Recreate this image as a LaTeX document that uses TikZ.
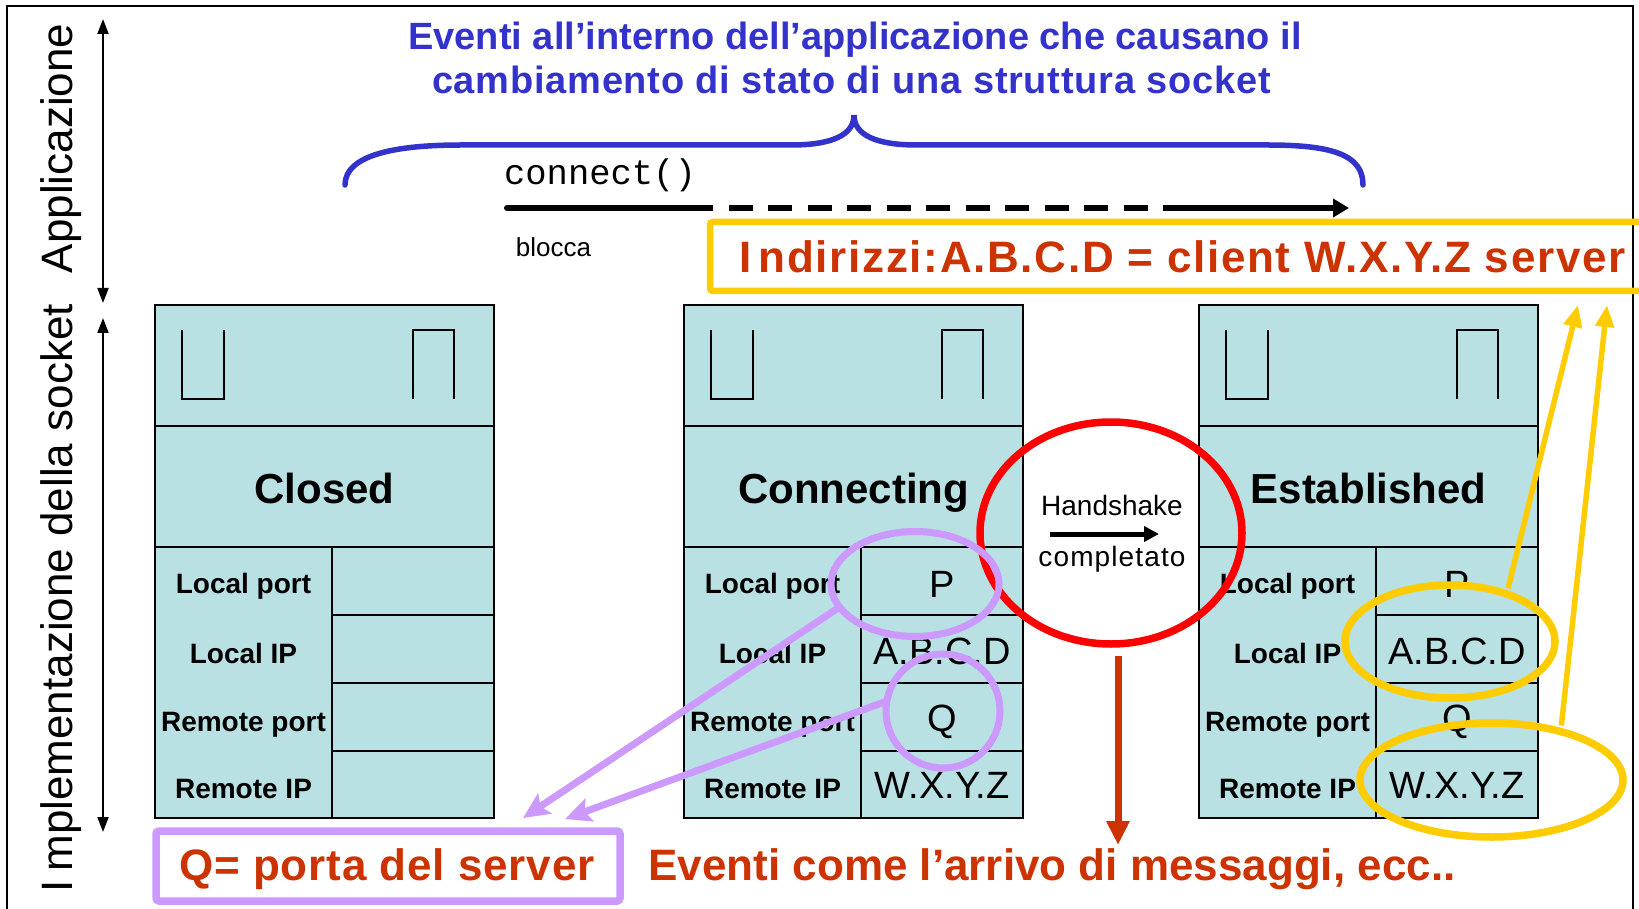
\documentclass[tikz,border=0pt]{standalone}
\usepackage{fontspec}
\setmainfont{Liberation Sans}
\setmonofont{Liberation Mono}
\usetikzlibrary{arrows.meta,shapes.geometric}

\definecolor{boxfill}{RGB}{185,224,227}
\definecolor{titleblue}{RGB}{51,51,204}
\definecolor{notered}{RGB}{204,51,0}
\definecolor{gold}{RGB}{255,204,0}
\definecolor{lavender}{RGB}{204,153,255}
\definecolor{ringred}{RGB}{255,0,0}

\newcommand{\setfs}[1]{\fontsize{#1}{#1}\selectfont}

\tikzset{
  every node/.style={inner sep=0pt, outer sep=0pt},
  boxline/.style={draw=black, line width=2pt},
  slotline/.style={draw=black, line width=1.8pt},
  sttitle/.style={font=\bfseries\setfs{42}, anchor=base},
  fieldlbl/.style={font=\bfseries\setfs{28}, anchor=base},
  fieldval/.style={font=\setfs{38}, anchor=base},
  sidetxt/.style={font=\setfs{44}, rotate=90, anchor=base},
  bluetitle/.style={font=\bfseries\setfs{38}, text=titleblue, anchor=base},
  rednote/.style={font=\bfseries\setfs{44}, text=notered, anchor=base},
  axisarrow/.style={draw=black, line width=2pt, {Triangle[length=15pt,width=11pt]}-{Triangle[length=15pt,width=11pt]}},
  purplering/.style={ellipse, draw=lavender, line width=7pt},
  goldring/.style={ellipse, draw=gold, line width=7.5pt},
  purplearrow/.style={draw=lavender, line width=7pt, -{Stealth[length=26pt,width=24pt,inset=5pt]}},
  goldarrow/.style={draw=gold, line width=5.5pt, -{Triangle[length=22pt,width=18pt]}},
}

% one socket structure: #1 name, #2 left edge, #3 state
\newcommand{\socketbox}[3]{%
  \begin{scope}[shift={(#2,0)}]
    \draw[boxline, fill=boxfill] (0,305) rectangle (339,818);
    \draw[boxline] (0,425.5) -- (339,425.5) (0,547) -- (339,547)
      (177,614.5) -- (339,614.5) (177,683) -- (339,683) (177,751) -- (339,751)
      (177,547) -- (177,818);
    \draw[slotline] (27,330) -- (27,399) -- (69,399) -- (69,330);
    \draw[slotline] (258,399) -- (258,330) -- (299,330) -- (299,399);
    \node[sttitle] (#1-state) at (169.5,503) {#3};
    \node[fieldlbl] (#1-lport) at (88.5,593) {Local port};
    \node[fieldlbl] (#1-lip) at (88.5,663) {Local IP};
    \node[fieldlbl] (#1-rport) at (88.5,731) {Remote port};
    \node[fieldlbl] (#1-rip) at (88.5,798) {Remote IP};
  \end{scope}}

% field contents of a bound socket
\newcommand{\socketfields}[2]{%
  \begin{scope}[shift={(#2,0)}]
    \node[fieldval] (#1-lportv) at (258,597) {P};
    \node[fieldval] (#1-lipv) at (258,664) {A.B.C.D};
    \node[fieldval] (#1-rportv) at (258,731) {Q};
    \node[fieldval] (#1-ripv) at (258,798) {W.X.Y.Z};
  \end{scope}}

\begin{document}
\begin{tikzpicture}[x=1pt,y=-1pt]
\useasboundingbox (0,0) rectangle (1639,909);

% outer frame
\draw[line width=2pt] (7,909) -- (7,6) -- (1633,6) -- (1633,909);

% layer axis on the left
\coordinate (appTop) at (103,19);
\coordinate (appBot) at (103,303);
\coordinate (implTop) at (103,318);
\coordinate (implBot) at (103,832);
\draw[axisarrow] (appTop) -- (appBot);
\draw[axisarrow] (implTop) -- (implBot);
\node[sidetxt] (appLabel) at (72.5,148.5) {Applicazione};
\node[sidetxt] (implLabel) at (72.5,598.5) {I\kern9pt mplementazione della socket};

% application events
\node[bluetitle] (evLine1) at (855,50) {Eventi all’interno dell’applicazione che causano il};
\node[bluetitle, font=\bfseries\setfs{38}\addfontfeatures{LetterSpace=2}] (evLine2) at (851.5,94) {cambiamento di stato di una struttura socket};
\draw[titleblue, line width=5.5pt, line cap=round]
  (345,185) .. controls (345,155) and (395,145) .. (461,145) -- (791,145)
  .. controls (832,145) and (854,135) .. (854,115)
  .. controls (854,135) and (876,145) .. (917,145) -- (1268,145)
  .. controls (1333,145) and (1363,155) .. (1363,185);

% connect() call
\node[font=\ttfamily\setfs{35.5}, anchor=base] (connectTxt) at (600,185) {connect()};
\node[font=\setfs{26}, anchor=base] (bloccaTxt) at (553.5,257) {blocca};
\coordinate (callStart) at (507,208);
\coordinate (waitStart) at (689,208);
\coordinate (waitEnd) at (1163,208);
\coordinate (callEnd) at (1349,208);
\draw[line width=6pt, line cap=round] (callStart) -- (waitStart);
\draw[line width=6pt, dash pattern=on 24pt off 15.5pt] (waitStart) -- (waitEnd);
\draw[line width=6pt, -{Triangle[length=16pt,width=18pt]}] (waitEnd) -- (callEnd);

% address legend
\draw[gold, line width=6.5pt, rounded corners=3pt] (710,222) rectangle (1660,291);
\node[rednote, font=\bfseries\setfs{44}\addfontfeatures{LetterSpace=3.8}] (addrTxt) at (1182.5,273) {I\kern7pt ndirizzi:A.B.C.D = client W.X.Y.Z server};

% socket structures
\socketbox{closed}{155}{Closed}
\socketbox{conn}{684}{Connecting}
\socketbox{estab}{1199}{Established}
\socketfields{conn}{684}
\socketfields{estab}{1199}

% handshake transition
\node[draw=ringred, line width=7.5pt, ellipse, minimum width=262pt, minimum height=222pt] (handRing) at (1111,533) {};
\node[font=\setfs{28}, anchor=base] (handTxt) at (1112,515) {Handshake};
\node[font=\setfs{28}\addfontfeatures{LetterSpace=4}, anchor=base] (doneTxt) at (1112,566) {completato};
\coordinate (handA) at (1050,534);
\coordinate (handB) at (1159,534);
\draw[line width=5pt, -{Triangle[length=15pt,width=15pt]}] (handA) -- (handB);

% network events
\coordinate (netTop) at (1118,656);
\coordinate (netBot) at (1118,845);
\draw[notered, line width=7pt, -{Triangle[length=24pt,width=22pt]}] (netTop) -- (netBot);
\node[rednote] (netTxt) at (1052,880) {Eventi come l’arrivo di messaggi, ecc..};

% server port note
\draw[lavender, line width=7.5pt, rounded corners=3pt] (156,831) rectangle (620,901);
\node[rednote, font=\bfseries\setfs{44}\addfontfeatures{LetterSpace=2}] (portTxt) at (387,880) {Q= porta del server};
\node[purplering, minimum width=168pt, minimum height=105pt] (ringP) at (915,584) {};
\node[purplering, minimum width=114pt, minimum height=114pt] (ringQ) at (943,711) {};
\coordinate (noteA) at (523,818);
\coordinate (noteB) at (565,819);
\draw[purplearrow] (ringP.197) -- (noteA);
\draw[purplearrow] (ringQ.170) -- (noteB);

% established addresses
\node[goldring, minimum width=210pt, minimum height=113pt] (ringABCD) at (1450,641.5) {};
\node[goldring, minimum width=263pt, minimum height=114pt] (ringWXYZ) at (1491.5,780) {};
\coordinate (legendA) at (1578,305);
\coordinate (legendB) at (1607,305);
\draw[goldarrow, shorten <=6pt] (ringABCD.40) -- (legendA);
\draw[goldarrow, shorten <=6pt] (ringWXYZ.35) -- (legendB);
\end{tikzpicture}
\end{document}
